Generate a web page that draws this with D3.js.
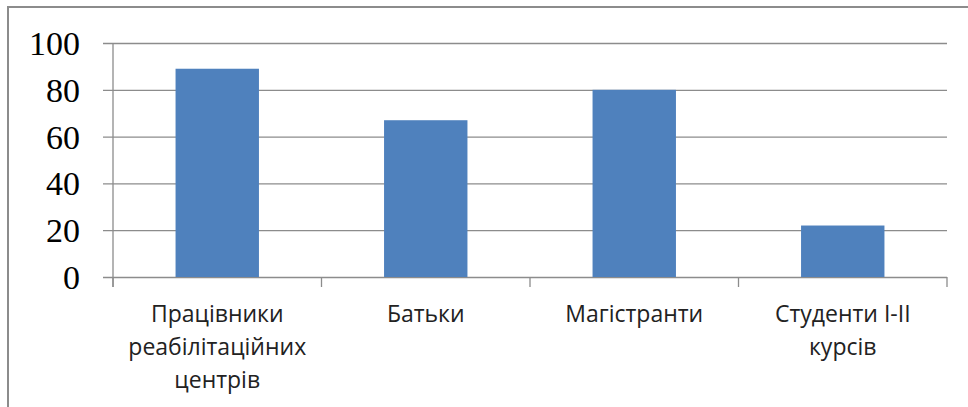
<!DOCTYPE html>
<html>
<head>
<meta charset="utf-8">
<script src="https://cdn.jsdelivr.net/npm/d3@7"></script>
<style>
  body { margin: 0; background: #fff; }
  svg { display: block; }
</style>
</head>
<body>
<div id="chart"></div>
<script>
// chart data
const categories = ["Працівники реабілітаційних центрів", "Батьки", "Магістранти", "Студенти І-ІІ курсів"];
const categoryLines = [["Працівники", "реабілітаційних", "центрів"], ["Батьки"], ["Магістранти"], ["Студенти І-ІІ", "курсів"]];
const values = [89, 67, 80, 22];
const yTicks = [0, 20, 40, 60, 80, 100];

const width = 968, height = 407;
const plot = { left: 113, right: 947, top: 43, bottom: 277 };

const svg = d3.select("#chart").append("svg")
    .attr("width", width)
    .attr("height", height);

// outer frame (only top and left edges are visible in the picture)
svg.append("path")
    .attr("d", `M8,${height} L8,7 L${width},7`)
    .attr("fill", "none")
    .attr("stroke", "#8c8c8c")
    .attr("stroke-width", 2);

let x = d3.scaleBand()
    .domain(categories)
    .range([plot.left, plot.right])
    .paddingInner(0.6)
    .paddingOuter(0.3);

let y = d3.scaleLinear()
    .domain([0, 100])
    .range([plot.bottom, plot.top]);

// gridlines + y labels
let yAxis = svg.append("g")
    .attr("transform", `translate(${plot.left - 10},0)`)
    .call(d3.axisLeft(y)
        .tickValues(yTicks)
        .tickSizeInner(-(plot.right - plot.left + 10))
        .tickSizeOuter(0)
        .tickPadding(23));
yAxis.select(".domain").remove();
yAxis.selectAll(".tick line")
    .attr("stroke", "#8c8c8c")
    .attr("stroke-width", 1.3);
yAxis.selectAll(".tick text")
    .attr("font-family", "'Liberation Serif', 'Times New Roman', serif")
    .attr("font-size", 34)
    .attr("fill", "#000")
    .attr("dy", "0.34em");

// bars
svg.append("g").selectAll("rect")
    .data(values)
    .join("rect")
    .attr("x", (d, i) => x(categories[i]))
    .attr("y", d => y(d))
    .attr("width", x.bandwidth())
    .attr("height", d => y(0) - y(d))
    .attr("fill", "#4f81bd");

// vertical axis line
svg.append("line")
    .attr("x1", plot.left).attr("x2", plot.left)
    .attr("y1", y(100)).attr("y2", y(0) + 10)
    .attr("stroke", "#8c8c8c")
    .attr("stroke-width", 1.3);

// category tick marks at band boundaries
let gap = (x.step() - x.bandwidth()) / 2;
let bounds = categories.map(c => x(c) - gap).concat([plot.right]);
svg.append("g").selectAll("line")
    .data(bounds)
    .join("line")
    .attr("x1", d => d).attr("x2", d => d)
    .attr("y1", y(0)).attr("y2", y(0) + 10)
    .attr("stroke", "#8c8c8c")
    .attr("stroke-width", 1.3);

// category labels
let labels = svg.append("g").selectAll("text")
    .data(categories)
    .join("text")
    .attr("x", d => x(d) + x.bandwidth() / 2)
    .attr("y", 322)
    .attr("text-anchor", "middle")
    .attr("font-family", "'Open Sans', sans-serif")
    .attr("font-size", 23)
    .attr("fill", "#222");

labels.selectAll("tspan")
    .data((d, i) => categoryLines[i])
    .join("tspan")
    .attr("x", function () { return this.parentNode.getAttribute("x"); })
    .attr("dy", (d, i) => i === 0 ? 0 : 33)
    .text(d => d);
</script>
</body>
</html>
